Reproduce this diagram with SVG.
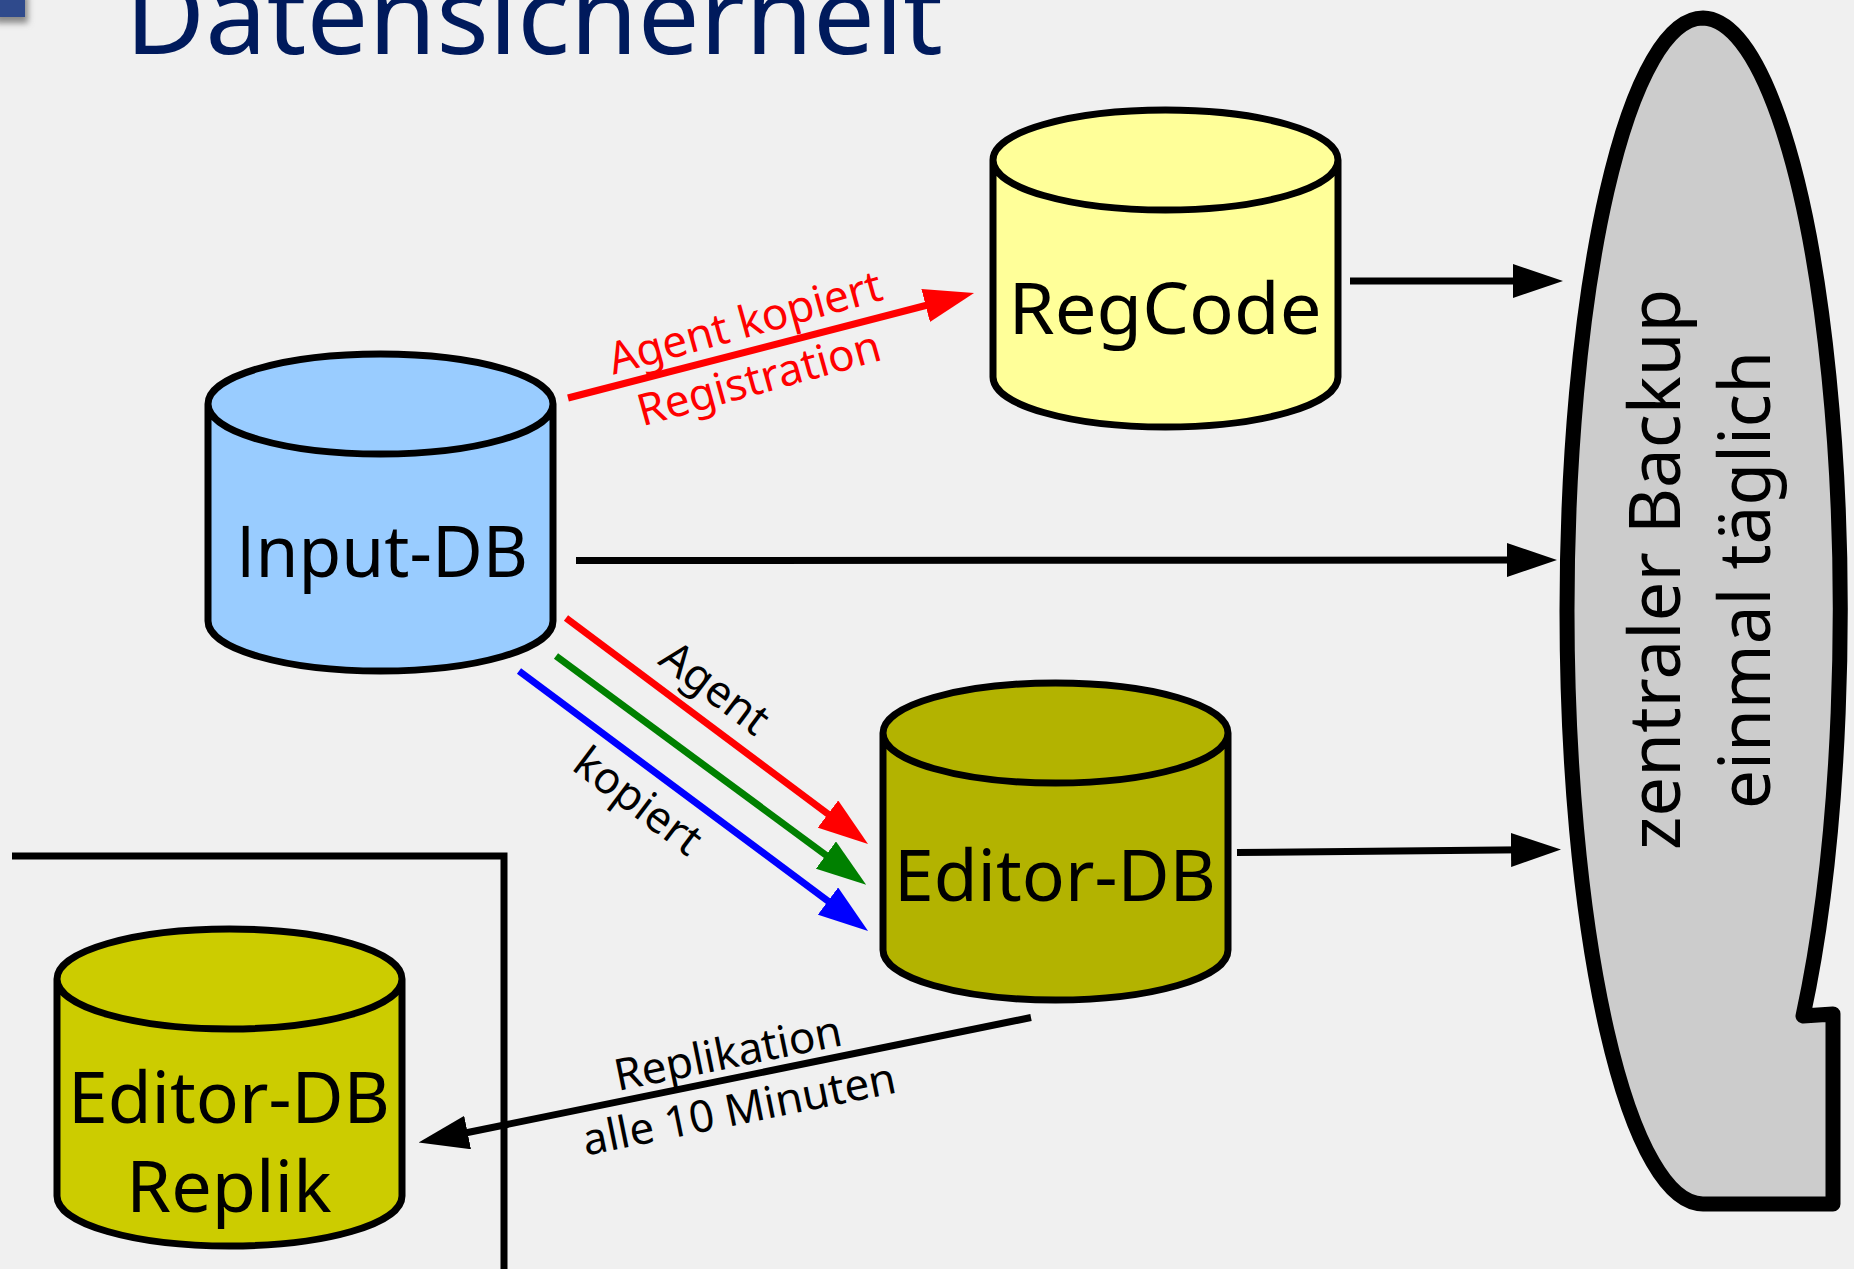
<svg xmlns="http://www.w3.org/2000/svg" width="1854" height="1269" viewBox="0 0 1854 1269">
<style>
text{font-family:"Noto Sans",sans-serif;text-anchor:middle}
.cyl{stroke:#000;stroke-width:7;stroke-linejoin:round}
.big{font-size:72px;fill:#000}
.lab{font-size:44px;fill:#000}
.red{fill:#f00}
.ln{fill:none;stroke-width:7}
</style>
<defs>
<marker id="hk" markerUnits="userSpaceOnUse" markerWidth="50" markerHeight="34" refX="20" refY="17" orient="auto"><path d="M0 0L50 17L0 34z" fill="#000"/></marker>
<marker id="hr" markerUnits="userSpaceOnUse" markerWidth="50" markerHeight="34" refX="20" refY="17" orient="auto"><path d="M0 0L50 17L0 34z" fill="#f00"/></marker>
<marker id="hg" markerUnits="userSpaceOnUse" markerWidth="50" markerHeight="34" refX="20" refY="17" orient="auto"><path d="M0 0L50 17L0 34z" fill="#008000"/></marker>
<marker id="hb" markerUnits="userSpaceOnUse" markerWidth="50" markerHeight="34" refX="20" refY="17" orient="auto"><path d="M0 0L50 17L0 34z" fill="#00f"/></marker>
<filter id="sh" x="-50%" y="-50%" width="200%" height="200%"><feGaussianBlur stdDeviation="3"/></filter>
<path id="cy" d="M-172.500 0V217C-172.500 245 -95 267 0 267S172.500 245 172.500 217V0C172.500 -28 95 -50 0 -50S-172.500 -28 -172.500 0C-172.500 28 -95 50 0 50S172.500 28 172.500 0"/>
</defs>
<rect width="1854" height="1269" fill="#f0f0f0"/>
<g id="deco">
<rect x="-5" y="-5" width="33" height="28" fill="#888" filter="url(#sh)"/>
<rect x="-5" y="-5" width="30" height="22" fill="#2f4a8c"/>
</g>
<text id="title" x="534" y="54" font-size="107" fill="#001a5c" textLength="818" lengthAdjust="spacingAndGlyphs">Datensicherheit</text>
<g id="backup">
<path d="M1703 1204A136 593 0 0 1 1703 18A138 593 0 0 1 1803 1016L1833 1014V1204Z" fill="#ccc" stroke="#000" stroke-width="15" stroke-linejoin="round"/>
<text class="big" transform="translate(1680 569.500) rotate(-90)" textLength="561" lengthAdjust="spacingAndGlyphs">zentraler Backup</text>
<text class="big" transform="translate(1770 580) rotate(-90)" textLength="458" lengthAdjust="spacingAndGlyphs">einmal täglich</text>
</g>
<g id="input-db"><use href="#cy" class="cyl" x="380.500" y="404" fill="#9cf"/><text class="big" x="382" y="577" textLength="292" lengthAdjust="spacingAndGlyphs"><tspan font-family="Open Sans">I</tspan>nput-DB</text></g>
<g id="regcode"><use href="#cy" class="cyl" x="1165.500" y="160" fill="#ff9"/><text class="big" x="1165" y="334" textLength="313" lengthAdjust="spacingAndGlyphs">RegCode</text></g>
<g id="editor-db"><use href="#cy" class="cyl" x="1055.500" y="733" fill="#b3b300"/><text class="big" x="1055" y="901" textLength="322" lengthAdjust="spacingAndGlyphs">Editor-DB</text></g>
<g id="editor-replik"><use href="#cy" class="cyl" x="229.500" y="979" fill="#cc0"/><text class="big" x="229" y="1123" textLength="322" lengthAdjust="spacingAndGlyphs">Editor-DB</text><text class="big" x="229" y="1212">Replik</text></g>
<g id="connectors">
<path d="M12 856H504V1269" fill="none" stroke="#000" stroke-width="7"/>
<path class="ln" stroke="#000" d="M1350 281H1533" marker-end="url(#hk)"/>
<path class="ln" stroke="#000" d="M576 560.500L1527 560" marker-end="url(#hk)"/>
<path class="ln" stroke="#000" d="M1237 852.500L1531 849.800" marker-end="url(#hk)"/>
<path class="ln" stroke="#000" d="M1031 1017.500L448 1136.500" marker-end="url(#hk)"/>
<path class="ln" stroke="#f00" d="M568 398L945 300.500" marker-end="url(#hr)"/>
<path class="ln" stroke="#f00" d="M566 618L844 826" marker-end="url(#hr)"/>
<path class="ln" stroke="#008000" d="M556 656L842 867" marker-end="url(#hg)"/>
<path class="ln" stroke="#00f" d="M519 671L844 913" marker-end="url(#hb)"/>
</g>
<g id="labels">
<text class="lab red" transform="translate(749 337) rotate(-15.500)">Agent kopiert</text>
<text class="lab red" transform="translate(763 393) rotate(-15.500)">Registration</text>
<text class="lab" transform="translate(706 700) rotate(37)">Agent</text>
<text class="lab" transform="translate(629 813) rotate(37)">kopiert</text>
<text class="lab" transform="translate(731 1068) rotate(-11.500)">Replikation</text>
<text class="lab" transform="translate(742 1124) rotate(-11.500)">alle 10 Minuten</text>
</g>
</svg>
